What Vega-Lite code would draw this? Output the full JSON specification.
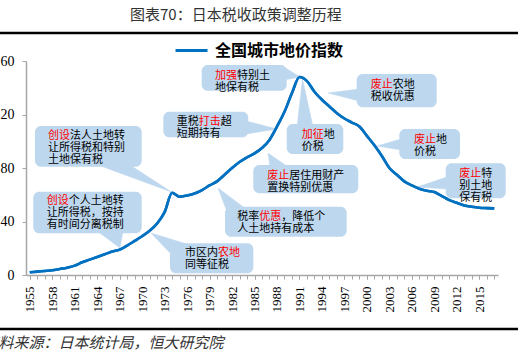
{
  "$schema": "https://vega.github.io/schema/vega-lite/v6.json",
  "width": 472,
  "height": 214,
  "autosize": {"type": "none"},
  "padding": {"left": 26, "top": 61, "right": 20, "bottom": 83},
  "background": "white",
  "config": {"view": {"stroke": null}},
  "title": {
    "text": "图表70：日本税收政策调整历程",
    "anchor": "start",
    "frame": "group",
    "dx": 104,
    "offset": 9,
    "font": "Noto Sans CJK SC",
    "fontSize": 15,
    "fontWeight": "normal",
    "color": "#333333"
  },
  "resolve": {"axis": {"x": "independent"}},
  "datasets": {
    "series": [
      {"year": 1955, "v": 2}, {"year": 1956, "v": 2.5}, {"year": 1957, "v": 3}, {"year": 1958, "v": 3.5},
      {"year": 1959, "v": 4.5}, {"year": 1960, "v": 5.5}, {"year": 1961, "v": 7}, {"year": 1962, "v": 9.5},
      {"year": 1963, "v": 11.5}, {"year": 1964, "v": 13.5}, {"year": 1965, "v": 15.5}, {"year": 1966, "v": 17.5},
      {"year": 1967, "v": 19}, {"year": 1968, "v": 22}, {"year": 1969, "v": 25.5}, {"year": 1970, "v": 29},
      {"year": 1971, "v": 33}, {"year": 1972, "v": 38.5}, {"year": 1973, "v": 47}, {"year": 1974, "v": 61.5},
      {"year": 1975, "v": 58.5}, {"year": 1976, "v": 59.5}, {"year": 1977, "v": 61}, {"year": 1978, "v": 63.5},
      {"year": 1979, "v": 67}, {"year": 1980, "v": 70}, {"year": 1981, "v": 75}, {"year": 1982, "v": 80},
      {"year": 1983, "v": 84.5}, {"year": 1984, "v": 88}, {"year": 1985, "v": 91}, {"year": 1986, "v": 95},
      {"year": 1987, "v": 101}, {"year": 1988, "v": 111}, {"year": 1989, "v": 122}, {"year": 1990, "v": 136},
      {"year": 1991, "v": 148}, {"year": 1992, "v": 145}, {"year": 1993, "v": 137}, {"year": 1994, "v": 131},
      {"year": 1995, "v": 126}, {"year": 1996, "v": 121}, {"year": 1997, "v": 117}, {"year": 1998, "v": 114},
      {"year": 1999, "v": 111}, {"year": 2000, "v": 104}, {"year": 2001, "v": 97}, {"year": 2002, "v": 89},
      {"year": 2003, "v": 80}, {"year": 2004, "v": 75}, {"year": 2005, "v": 70}, {"year": 2006, "v": 67},
      {"year": 2007, "v": 64.5}, {"year": 2008, "v": 63}, {"year": 2009, "v": 62}, {"year": 2010, "v": 59},
      {"year": 2011, "v": 56}, {"year": 2012, "v": 54}, {"year": 2013, "v": 52}, {"year": 2014, "v": 51},
      {"year": 2015, "v": 50.3}, {"year": 2016, "v": 50}, {"year": 2017, "v": 49.8}
    ],
    "boxes": [
      {"x": 1955.7, "x2": 1969.94, "y": 111.4, "y2": 80.97},
      {"x": 1955.47, "x2": 1969.94, "y": 62.28, "y2": 31.18},
      {"x": 1973.72, "x2": 1984.84, "y": 23.7, "y2": 1.27},
      {"x": 1972.83, "x2": 1984.17, "y": 122.09, "y2": 102.95},
      {"x": 1977.95, "x2": 1989.3, "y": 157.01, "y2": 137.79},
      {"x": 1989.3, "x2": 1996.85, "y": 112.9, "y2": 90.47},
      {"x": 1984.84, "x2": 1998.85, "y": 82.24, "y2": 61.08},
      {"x": 1981.06, "x2": 1997.3, "y": 51.07, "y2": 28.64},
      {"x": 1998.64, "x2": 2009.32, "y": 150.28, "y2": 125.38},
      {"x": 2004.33, "x2": 2012.43, "y": 109.16, "y2": 86.73},
      {"x": 2010.52, "x2": 2018.53, "y": 83.51, "y2": 57.35}
    ],
    "tri": [
      {"id": 1, "o": 1, "x": 1964.11, "y": 82.24}, {"id": 1, "o": 2, "x": 1973.92, "y": 62.06}, {"id": 1, "o": 3, "x": 1968.38, "y": 82.24},
      {"id": 2, "o": 1, "x": 1963.98, "y": 32.9}, {"id": 2, "o": 2, "x": 1967.05, "y": 20.19}, {"id": 2, "o": 3, "x": 1967.45, "y": 32.9},
      {"id": 3, "o": 1, "x": 1973.99, "y": 14.95}, {"id": 3, "o": 2, "x": 1971.18, "y": 31.4}, {"id": 3, "o": 3, "x": 1976.39, "y": 22.43},
      {"id": 4, "o": 1, "x": 1983.86, "y": 115.14}, {"id": 4, "o": 2, "x": 1988.0, "y": 109.16}, {"id": 4, "o": 3, "x": 1983.86, "y": 105.42},
      {"id": 5, "o": 1, "x": 1988.94, "y": 155.51}, {"id": 5, "o": 2, "x": 1991.07, "y": 148.04}, {"id": 5, "o": 3, "x": 1988.94, "y": 145.79},
      {"id": 6, "o": 1, "x": 1990.67, "y": 110.65}, {"id": 6, "o": 2, "x": 1991.41, "y": 146.54}, {"id": 6, "o": 3, "x": 1992.81, "y": 110.65},
      {"id": 7, "o": 1, "x": 1987.07, "y": 80.75}, {"id": 7, "o": 2, "x": 1986.8, "y": 91.21}, {"id": 7, "o": 3, "x": 1989.47, "y": 80.75},
      {"id": 8, "o": 1, "x": 1981.19, "y": 49.35}, {"id": 8, "o": 2, "x": 1980.13, "y": 65.05}, {"id": 8, "o": 3, "x": 1983.86, "y": 49.35},
      {"id": 9, "o": 1, "x": 1998.95, "y": 139.07}, {"id": 9, "o": 2, "x": 1994.81, "y": 136.07}, {"id": 9, "o": 3, "x": 1998.95, "y": 130.09},
      {"id": 10, "o": 1, "x": 2004.55, "y": 101.68}, {"id": 10, "o": 2, "x": 2001.35, "y": 96.45}, {"id": 10, "o": 3, "x": 2004.55, "y": 93.46},
      {"id": 11, "o": 1, "x": 2010.69, "y": 73.27}, {"id": 11, "o": 2, "x": 2006.69, "y": 65.79}, {"id": 11, "o": 3, "x": 2010.69, "y": 64.3}
    ],
    "notes": [
      {"x": 1957.44, "y": 108.04, "k": ["\u200b　　法人土地转", "让所得税和特别", "土地保有税"], "r": ["创设"]},
      {"x": 1957.26, "y": 60.04, "k": ["\u200b　　个人土地转", "让所得税，按持", "有时间分离税制"], "r": ["创设"]},
      {"x": 1975.72, "y": 20.71, "k": ["市区内", "同等征税"], "r": ["\u200b　　　农地"]},
      {"x": 1974.61, "y": 118.65, "k": ["重税　　超", "短期持有"], "r": ["\u200b　　打击"]},
      {"x": 1979.73, "y": 153.5, "k": ["\u200b　　特别土", "地保有税"], "r": ["加强"]},
      {"x": 1991.3, "y": 109.16, "k": ["\u200b　　地", "价税"], "r": ["加征"]},
      {"x": 1986.71, "y": 78.5, "k": ["\u200b　　居住用财产", "置换特别优惠"], "r": ["废止"]},
      {"x": 1982.7, "y": 47.63, "k": ["税率　　，降低个", "人土地持有成本"], "r": ["\u200b　　优惠"]},
      {"x": 2000.51, "y": 146.54, "k": ["\u200b　　农地", "税收优惠"], "r": ["废止"]},
      {"x": 2006.29, "y": 105.42, "k": ["\u200b　　地", "价税"], "r": ["废止"]},
      {"x": 2012.33, "y": 79.78, "k": ["\u200b　　特", "别土地", "保有税"], "r": ["废止"]}
    ],
    "frame": [{"y": 180.9}, {"y": -40.4}]
  },
  "layer": [
    {
      "data": {"name": "series"},
      "mark": {"type": "line", "strokeWidth": 2.6, "interpolate": "monotone"},
      "encoding": {
        "x": {
          "field": "year", "type": "quantitative",
          "scale": {"domain": [1954.5, 2017.5], "nice": false, "zero": false},
          "axis": {
            "orient": "bottom",
            "values": [1955,1958,1961,1964,1967,1970,1973,1976,1979,1982,1985,1988,1991,1994,1997,2000,2003,2006,2009,2012,2015],
            "format": "d",
            "labelAngle": -90,
            "labelFont": "Liberation Serif",
            "labelFontSize": 13,
            "labelColor": "#000000",
            "labelPadding": 7,
            "labelOverlap": false,
            "labelBound": false,
            "labelFlush": false,
            "tickSize": 4,
            "tickColor": "#A6A6A6",
            "domainColor": "#A6A6A6",
            "domainWidth": 1.5,
            "grid": false,
            "title": "资料来源：日本统计局，恒大研究院",
            "titleAnchor": "start",
            "titleAlign": "left",
            "titleBaseline": "middle",
            "titleX": -43,
            "titleY": 67,
            "titleFont": "Noto Sans CJK SC",
            "titleFontSize": 15,
            "titleFontWeight": "normal",
            "titleFontStyle": "italic",
            "titleColor": "#333333"
          }
        },
        "y": {
          "field": "v", "type": "quantitative",
          "scale": {"domain": [0, 160], "nice": false},
          "axis": {
            "values": [0, 20, 40, 60, 80, 100, 120, 140, 160],
            "labelFont": "Liberation Serif",
            "labelFontSize": 14,
            "labelColor": "#000000",
            "labelPadding": 8,
            "tickSize": 4,
            "tickColor": "#A6A6A6",
            "domainColor": "#A6A6A6",
            "domainWidth": 1.5,
            "grid": false,
            "title": null
          }
        },
        "color": {
          "datum": "全国城市地价指数",
          "type": "nominal",
          "scale": {"range": ["#0070C0"]},
          "legend": {
            "orient": "none",
            "legendX": 148,
            "legendY": -28,
            "title": null,
            "padding": 0,
            "symbolType": "stroke",
            "symbolSize": 1024,
            "symbolStrokeWidth": 3,
            "labelFont": "Noto Sans CJK SC",
            "labelFontSize": 16,
            "labelFontWeight": "bold",
            "labelColor": "#000000",
            "labelOffset": 6
          }
        }
      }
    },
    {
      "data": {"name": "tri"},
      "mark": {"type": "line", "fill": "#BDD7EE", "stroke": "#BDD7EE", "strokeWidth": 0.5, "clip": false},
      "encoding": {
        "x": {
          "field": "x", "type": "quantitative",
          "axis": {
            "orient": "bottom",
            "values": [1955,1956,1957,1958,1959,1960,1961,1962,1963,1964,1965,1966,1967,1968,1969,1970,1971,1972,1973,1974,1975,1976,1977,1978,1979,1980,1981,1982,1983,1984,1985,1986,1987,1988,1989,1990,1991,1992,1993,1994,1995,1996,1997,1998,1999,2000,2001,2002,2003,2004,2005,2006,2007,2008,2009,2010,2011,2012,2013,2014,2015,2016,2017],
            "labels": false,
            "domain": false,
            "grid": false,
            "tickSize": 4,
            "tickColor": "#A6A6A6",
            "title": null
          }
        },
        "y": {"field": "y", "type": "quantitative"},
        "detail": {"field": "id", "type": "nominal"},
        "order": {"field": "o", "type": "quantitative"}
      }
    },
    {
      "data": {"name": "boxes"},
      "mark": {"type": "rect", "fill": "#BDD7EE", "cornerRadius": 6, "clip": false},
      "encoding": {
        "x": {"field": "x", "type": "quantitative", "axis": null},
        "x2": {"field": "x2"},
        "y": {"field": "y", "type": "quantitative"},
        "y2": {"field": "y2"}
      }
    },
    {
      "data": {"name": "series"},
      "mark": {"type": "line", "strokeWidth": 2.6, "interpolate": "monotone", "color": "#0070C0"},
      "encoding": {
        "x": {"field": "year", "type": "quantitative", "axis": null},
        "y": {"field": "v", "type": "quantitative"}
      }
    },
    {
      "data": {"name": "notes"},
      "mark": {"type": "text", "align": "left", "baseline": "top", "font": "Noto Sans CJK SC", "fontSize": 11, "lineHeight": 12, "color": "#000000", "clip": false},
      "encoding": {
        "x": {"field": "x", "type": "quantitative", "axis": null},
        "y": {"field": "y", "type": "quantitative"},
        "text": {"field": "k"}
      }
    },
    {
      "data": {"name": "notes"},
      "mark": {"type": "text", "align": "left", "baseline": "top", "font": "Noto Sans CJK SC", "fontSize": 11, "lineHeight": 12, "color": "#FF0000", "clip": false},
      "encoding": {
        "x": {"field": "x", "type": "quantitative", "axis": null},
        "y": {"field": "y", "type": "quantitative"},
        "text": {"field": "r"}
      }
    },
    {
      "data": {"name": "frame"},
      "mark": {"type": "rule", "color": "#000000", "strokeWidth": 2.5, "clip": false},
      "encoding": {
        "y": {"field": "y", "type": "quantitative"},
        "x": {"datum": 1951.0, "axis": null},
        "x2": {"datum": 2020.2}
      }
    }
  ]
}
